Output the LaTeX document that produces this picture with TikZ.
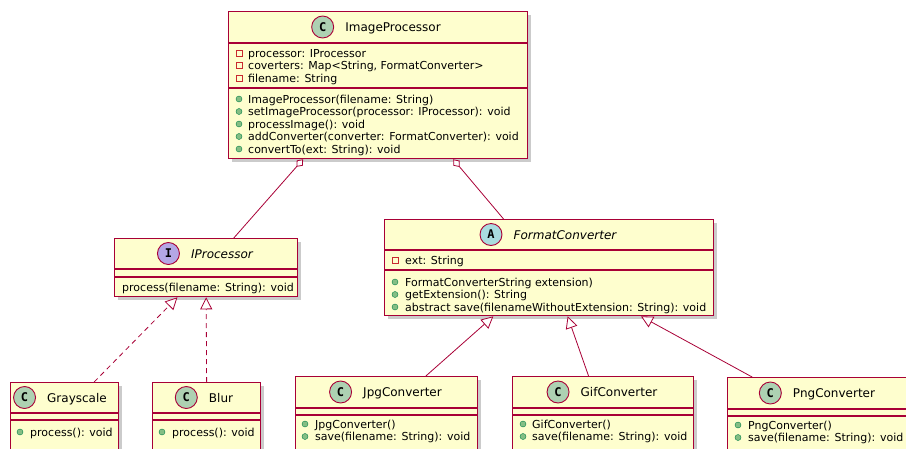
\documentclass[tikz,border=0pt]{standalone}
\usepackage{fontspec}
\setmainfont{DejaVu Sans}
\newfontfamily\spotfont{DejaVu Sans Mono}
\usetikzlibrary{arrows.meta}
\usetikzlibrary{positioning}
\usetikzlibrary{calc}
\usetikzlibrary{shadows}

\definecolor{umlborder}{HTML}{A80036}
\definecolor{umlfill}{HTML}{FEFECE}
\definecolor{spotclass}{HTML}{ADD1B2}
\definecolor{spotiface}{HTML}{B4A7E5}
\definecolor{spotabstract}{HTML}{A9DCDF}
\definecolor{privred}{HTML}{C82930}
\definecolor{pubgreen}{HTML}{84BE84}
\definecolor{pubedge}{HTML}{038048}

\begin{document}
\begin{tikzpicture}[x=1pt, y=-1pt,
  classbox/.style={rectangle, draw=umlborder, line width=1.3pt, fill=umlfill, anchor=north west, inner sep=0pt,
    drop shadow={shadow xshift=3pt, shadow yshift=-3pt, fill=black!45, opacity=0.45}},
  sep/.style={draw=umlborder, line width=1.3pt},
  title/.style={inner sep=0pt, text height=9pt, text depth=0pt, font=\fontsize{12}{14}\selectfont},
  ititle/.style={title, font=\fontsize{12}{14}\selectfont\itshape},
  spot/.style={circle, draw=umlborder, line width=0.9pt, minimum size=22pt, inner sep=0pt, font=\spotfont\bfseries\fontsize{12}{12}\selectfont},
  member/.style={anchor=base west, inner sep=0pt, font=\fontsize{11}{13}\selectfont},
  priv/.style={rectangle, draw=privred, line width=0.8pt, minimum size=6pt, inner sep=0pt},
  pub/.style={circle, draw=pubedge, fill=pubgreen, line width=0.4pt, minimum size=6pt, inner sep=0pt},
  agg/.style={draw=umlborder, line width=0.8pt, {Diamond[open, fill=white, length=10pt, width=8pt]}-},
  realize/.style={draw=umlborder, line width=0.8pt, dash pattern=on 5pt off 4pt, -{Triangle[open, fill=white, length=12pt, width=12pt]}},
  extend/.style={draw=umlborder, line width=0.8pt, -{Triangle[open, fill=white, length=12pt, width=12pt]}}]

\useasboundingbox (0,0) rectangle (906,448);
\clip (0,0) rectangle (906,448);

% ImageProcessor
\node[classbox, minimum width=299pt, minimum height=147pt] (ip) at (228,11) {};
\draw[sep] (ip.west |- 0,43) -- (ip.east |- 0,43);
\draw[sep] (ip.west |- 0,88) -- (ip.east |- 0,88);
\node[title] (ipname) at (393,27) {ImageProcessor};
\node[spot, fill=spotclass, left=11pt of ipname] (ipspot) {C};
\foreach \txt [count=\i] in {{processor: IProcessor}, {coverters: Map<String, FormatConverter>}, {filename: String}} {
  \node[priv] (ipattr\i) at (239, 40.5+12.5*\i) {};
  \node[member] (ipattrtxt\i) at (248, 44.5+12.5*\i) {\txt};
}
\foreach \txt [count=\i] in {{ImageProcessor(filename: String)}, {setImageProcessor(processor: IProcessor): void},
    {processImage(): void}, {addConverter(converter: FormatConverter): void}, {convertTo(ext: String): void}} {
  \node[pub] (ipop\i) at (239, 86.5+12.5*\i) {};
  \node[member] (ipoptxt\i) at (248, 90.5+12.5*\i) {\txt};
}

% IProcessor
\node[classbox, minimum width=183pt, minimum height=58pt] (iproc) at (114,238) {};
\draw[sep] (iproc.west |- 0,269) -- (iproc.east |- 0,269);
\draw[sep] (iproc.west |- 0,277) -- (iproc.east |- 0,277);
\node[ititle] (iprocname) at (222,253.5) {IProcessor};
\node[spot, fill=spotiface, left=11pt of iprocname] (iprocspot) {I};
\node[member] (iprocop) at (122,291) {process(filename: String): void};

% FormatConverter
\node[classbox, minimum width=329pt, minimum height=96pt] (fc) at (384,219) {};
\draw[sep] (fc.west |- 0,250) -- (fc.east |- 0,250);
\draw[sep] (fc.west |- 0,270) -- (fc.east |- 0,270);
\node[ititle] (fcname) at (565,234.5) {FormatConverter};
\node[spot, fill=spotabstract, left=11pt of fcname] (fcspot) {A};
\node[priv] (fcattr) at (395,260) {};
\node[member] (fcattrtxt) at (405,264) {ext: String};
\foreach \txt [count=\i] in {{FormatConverterString extension)}, {getExtension(): String},
    {abstract save(filenameWithoutExtension: String): void}} {
  \node[pub] (fcop\i) at (395, 269.5+12.5*\i) {};
  \node[member] (fcoptxt\i) at (405, 273.5+12.5*\i) {\txt};
}

% Grayscale and Blur
\node[classbox, minimum width=108pt, minimum height=72pt] (gray) at (10,382) {};
\draw[sep] (gray.west |- 0,413) -- (gray.east |- 0,413);
\draw[sep] (gray.west |- 0,420) -- (gray.east |- 0,420);
\node[title] (grayname) at (77,397.5) {Grayscale};
\node[spot, fill=spotclass, left=11pt of grayname] (grayspot) {C};
\node[pub] (grayop) at (20,432) {};
\node[member] (grayoptxt) at (30,436) {process(): void};

\node[classbox, minimum width=108pt, minimum height=72pt] (blur) at (152,382) {};
\draw[sep] (blur.west |- 0,413) -- (blur.east |- 0,413);
\draw[sep] (blur.west |- 0,420) -- (blur.east |- 0,420);
\node[title] (blurname) at (221,397.5) {Blur};
\node[spot, fill=spotclass, left=11pt of blurname] (blurspot) {C};
\node[pub] (blurop) at (162,432) {};
\node[member] (bluroptxt) at (172,436) {process(): void};

% JpgConverter, GifConverter and PngConverter
\node[classbox, minimum width=182pt, minimum height=80pt] (jpg) at (295,376) {};
\draw[sep] (jpg.west |- 0,408) -- (jpg.east |- 0,408);
\draw[sep] (jpg.west |- 0,415) -- (jpg.east |- 0,415);
\node[title] (jpgname) at (402.5,392) {JpgConverter};
\node[spot, fill=spotclass, left=11pt of jpgname] (jpgspot) {C};
\foreach \txt [count=\i] in {{JpgConverter()}, {save(filename: String): void}} {
  \node[pub] (jpgop\i) at (305, 411.5+12.5*\i) {};
  \node[member] (jpgoptxt\i) at (315, 415.5+12.5*\i) {\txt};
}

\node[classbox, minimum width=181pt, minimum height=80pt] (gif) at (512,376) {};
\draw[sep] (gif.west |- 0,408) -- (gif.east |- 0,408);
\draw[sep] (gif.west |- 0,415) -- (gif.east |- 0,415);
\node[title] (gifname) at (619,392) {GifConverter};
\node[spot, fill=spotclass, left=11pt of gifname] (gifspot) {C};
\foreach \txt [count=\i] in {{GifConverter()}, {save(filename: String): void}} {
  \node[pub] (gifop\i) at (523, 411.5+12.5*\i) {};
  \node[member] (gifoptxt\i) at (532, 415.5+12.5*\i) {\txt};
}

\node[classbox, minimum width=182pt, minimum height=80pt] (png) at (727,377) {};
\draw[sep] (png.west |- 0,409) -- (png.east |- 0,409);
\draw[sep] (png.west |- 0,416) -- (png.east |- 0,416);
\node[title] (pngname) at (834,393) {PngConverter};
\node[spot, fill=spotclass, left=11pt of pngname] (pngspot) {C};
\foreach \txt [count=\i] in {{PngConverter()}, {save(filename: String): void}} {
  \node[pub] (pngop\i) at (738, 412.5+12.5*\i) {};
  \node[member] (pngoptxt\i) at (748, 416.5+12.5*\i) {\txt};
}

% relations
\draw[agg] ($(ip.south west)!0.25!(ip.south east)$) -- ($(iproc.north west)!0.65!(iproc.north east)$);
\draw[agg] ($(ip.south west)!0.75!(ip.south east)$) -- ($(fc.north west)!0.362!(fc.north east)$);
\draw[realize] ($(gray.north west)!0.77!(gray.north east)$) -- ($(iproc.south west)!0.344!(iproc.south east)$);
\draw[realize] (blur.north) -- (iproc.south);
\draw[extend] ($(jpg.north west)!0.714!(jpg.north east)$) -- ($(fc.south west)!0.331!(fc.south east)$);
\draw[extend] ($(gif.north west)!0.42!(gif.north east)$) -- ($(fc.south west)!0.556!(fc.south east)$);
\draw[extend] ($(png.north west)!0.137!(png.north east)$) -- ($(fc.south west)!0.778!(fc.south east)$);

\end{tikzpicture}
\end{document}
